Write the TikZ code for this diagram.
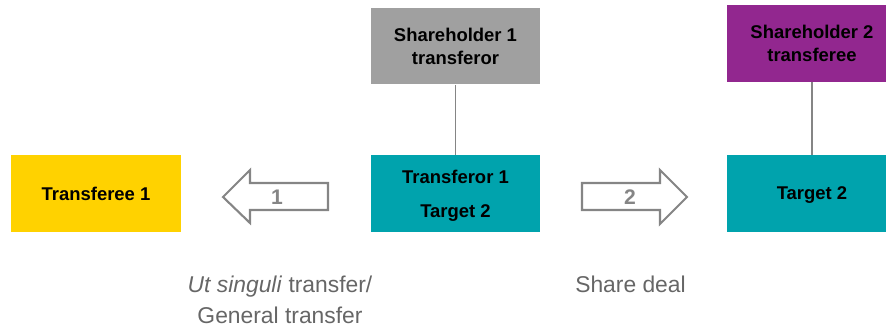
\documentclass[tikz,border=0pt]{standalone}
\usepackage{fontspec}
\setmainfont{Liberation Sans}
\definecolor{tyellow}{HTML}{FFD200}
\definecolor{sgrey}{HTML}{A0A0A0}
\definecolor{tteal}{HTML}{00A3AD}
\definecolor{spurple}{HTML}{92278F}
\definecolor{arrowgrey}{HTML}{858585}
\definecolor{notegrey}{HTML}{666666}

\tikzset{
    entity/.style={minimum width=3.4cm, minimum height=1.54cm, inner sep=0pt,
        align=center, font=\fontsize{10.5}{13}\selectfont\bfseries},
    link/.style={draw=arrowgrey, line width=0.6pt},
    blockarrow/.style={draw=arrowgrey, line width=1.2pt, fill=white, line join=miter},
    arrowlabel/.style={text=arrowgrey, font=\fontsize{12}{14}\selectfont\bfseries},
    note/.style={text=notegrey, align=center, font=\fontsize{13}{17.6}\selectfont}
}

\begin{document}
\begin{tikzpicture}[x=0.02cm, y=-0.02cm]
        \useasboundingbox (0,0) rectangle (886,331);

        \node [entity, fill=tyellow] (transferee) at (96,193.5) {Transferee 1};
        \node [entity, fill=sgrey] (holder1) at (455.5,46) {Shareholder 1\\transferor};
        \node [entity, fill=tteal, text depth=-0.06cm] (transferor) at (455.5,193.5) {Transferor 1\\[6.5pt]Target 2};
        \node [entity, fill=spurple] (holder2) at (812,43.5) {Shareholder 2\\transferee};
        \node [entity, fill=tteal, text depth=-0.06cm] (target) at (812,193.5) {Target 2};

        \draw [link] (holder1) -- (transferor);
        \draw [link] (holder2) -- (target);

        % block arrows
        \draw [blockarrow] (223,197) -- (250,170) -- (250,183) -- (328,183)
            -- (328,210) -- (250,210) -- (250,223) -- cycle;
        \node [arrowlabel] (one) at (277,197) {1};
        \draw [blockarrow] (687,197) -- (660,170) -- (660,183) -- (582,183)
            -- (582,210) -- (660,210) -- (660,224) -- cycle;
        \node [arrowlabel] (two) at (630,197) {2};

        \node [note] (utsinguli) at (280,299.5) {\textit{Ut singuli} transfer/\\General transfer};
        \node [note] (sharedeal) at (630.5,284) {Share deal};
    \end{tikzpicture}
\end{document}
